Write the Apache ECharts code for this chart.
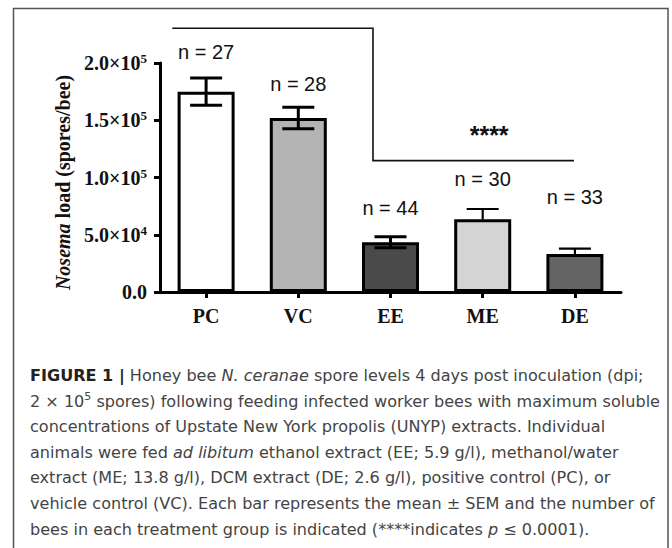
<!DOCTYPE html>
<html><head><meta charset="utf-8">
<script src="https://cdn.jsdelivr.net/npm/echarts@6/dist/echarts.min.js"></script>
<style>html,body{margin:0;padding:0;background:#fff}#chart{width:672px;height:548px}</style>
</head><body><div id="chart"></div>
<script>
// ---------------- data ----------------
const categories = ['PC', 'VC', 'EE', 'ME', 'DE'];
const meanLoad = [175000, 152000, 43500, 63500, 33200];
const semLoad = [11800, 9400, 4800, 9000, 4600];
const groupSize = [27, 28, 44, 30, 33];
const yTickValues = [0, 50000, 100000, 150000, 200000];
const yTickMantissa = ['0.0', '5.0×10', '1.0×10', '1.5×10', '2.0×10'];
const yTickExponent = ['', '4', '5', '5', '5'];
const yTitleItalic = 'Nosema';
const yTitleRest = ' load (spores/bee)';
const significanceMark = '****';
const captionLines = [
  '{b|FIGURE 1 |} Honey bee {i|N. ceranae} spore levels 4 days post inoculation (dpi;',
  '2 × 10{s|5} spores) following feeding infected worker bees with maximum soluble',
  'concentrations of Upstate New York propolis (UNYP) extracts. Individual',
  'animals were fed {i|ad libitum} ethanol extract (EE; 5.9 g/l), methanol/water',
  'extract (ME; 13.8 g/l), DCM extract (DE; 2.6 g/l), positive control (PC), or',
  'vehicle control (VC). Each bar represents the mean ± SEM and the number of',
  'bees in each treatment group is indicated (****indicates {i|p} ≤ 0.0001).'
];

// ---------------- styling ----------------
const barFills = ['#ffffff', '#b4b4b4', '#4a4a4a', '#d4d4d4', '#646464'];
const errLower = [true, true, true, false, false];
const errWidth = [3, 3, 3, 2.2, 2.2];
const nGap = [26, 23, 29, 30, 52];
const SERIF = 'Liberation Serif';
const SANS = 'Liberation Sans';
const CAP_FAMILY = 'DejaVu Sans';

function fitSize(family, sample, target) {
  const ctx = document.createElement('canvas').getContext('2d');
  ctx.font = '100px "' + family + '"';
  const w = ctx.measureText(sample).width;
  return w > 0 ? 100 * target / w : 16;
}
const CAP_FONT = Math.min(17.5, fitSize(CAP_FAMILY, captionLines[5], 625));

const chart = echarts.init(document.getElementById('chart'), null, {renderer: 'svg'});

function capRich() {
  const base = {fontFamily: CAP_FAMILY, fontSize: CAP_FONT, fill: '#444', fontWeight: 'normal', fontStyle: 'normal'};
  return {
    b: Object.assign({}, base, {fontWeight: 'bold', fill: '#222'}),
    i: Object.assign({}, base, {fontStyle: 'italic'}),
    s: Object.assign({}, base, {fontSize: Math.round(CAP_FONT * 0.68), lineHeight: 12, verticalAlign: 'top'})
  };
}

const graphics = [
  {type: 'rect', silent: true, shape: {x: 13.5, y: 8.5, width: 654.5, height: 620},
   style: {fill: 'none', stroke: '#555', lineWidth: 1.5}}
];
captionLines.forEach((t, k) => {
  graphics.push({
    type: 'text', silent: true,
    style: {text: t, x: 30, y: 375.5 + 25.6 * k, align: 'left', verticalAlign: 'middle',
      textAlign: 'left', textVerticalAlign: 'middle',
      fontFamily: CAP_FAMILY, fontSize: CAP_FONT, fill: '#444', lineHeight: 20, rich: capRich()}
  });
});

const option = {
  animation: false,
  backgroundColor: '#fff',
  grid: {left: 160, top: 63, width: 461, height: 229, containLabel: false},
  xAxis: {
    type: 'category', data: categories,
    axisLine: {lineStyle: {color: '#000', width: 3}},
    axisTick: {show: true, alignWithLabel: true, length: 6, lineStyle: {color: '#000', width: 3}},
    axisLabel: {fontFamily: SERIF, fontWeight: 'bold', fontSize: 20, color: '#111', margin: 14},
    splitLine: {show: false}
  },
  yAxis: {
    type: 'value', min: 0, max: 200000, interval: 50000,
    name: '{i|' + yTitleItalic + '}{r|' + yTitleRest + '}',
    nameLocation: 'middle', nameRotate: 90, nameGap: 86,
    nameTextStyle: {
      padding: [0, 10, 0, 0],
      rich: {
        i: {fontFamily: SERIF, fontWeight: 'bold', fontStyle: 'italic', fontSize: 20, color: '#111'},
        r: {fontFamily: SERIF, fontWeight: 'bold', fontStyle: 'normal', fontSize: 20, color: '#111'}
      }
    },
    axisLine: {show: true, lineStyle: {color: '#000', width: 3}},
    axisTick: {show: true, length: 6, lineStyle: {color: '#000', width: 3}},
    splitLine: {show: false},
    axisLabel: {
      margin: 13,
      formatter: function (v) {
        const k = yTickValues.indexOf(v);
        if (k < 0) return '';
        return yTickExponent[k] ? '{m|' + yTickMantissa[k] + '}{e|' + yTickExponent[k] + '}' : '{m|' + yTickMantissa[k] + '}';
      },
      rich: {
        m: {fontFamily: SERIF, fontWeight: 'bold', fontSize: 20, color: '#111', lineHeight: 22},
        e: {fontFamily: SERIF, fontWeight: 'bold', fontSize: 13, color: '#111', lineHeight: 12, verticalAlign: 'top'}
      }
    }
  },
  series: [
    {
      type: 'bar', barWidth: 57, z: 2,
      data: meanLoad.map((v, i) => ({value: v, itemStyle: {color: barFills[i]}})),
      itemStyle: {borderColor: '#000', borderWidth: 3}
    },
    {
      type: 'custom', z: 5, clip: false,
      data: categories.map((c, i) => [i, meanLoad[i], semLoad[i]]),
      renderItem: function (params, api) {
        const i = params.dataIndex;
        const m = api.value(1), s = api.value(2);
        const c = api.coord([api.value(0), m]);
        const top = api.coord([api.value(0), m + s]);
        const bot = api.coord([api.value(0), m - s]);
        const half = 16;
        const st = {stroke: '#000', lineWidth: errWidth[i], fill: 'none'};
        const ch = [
          {type: 'line', shape: {x1: c[0], y1: errLower[i] ? bot[1] : c[1], x2: c[0], y2: top[1]}, style: st},
          {type: 'line', shape: {x1: c[0] - half, y1: top[1], x2: c[0] + half, y2: top[1]}, style: st}
        ];
        if (errLower[i]) ch.push({type: 'line', shape: {x1: c[0] - half, y1: bot[1], x2: c[0] + half, y2: bot[1]}, style: st});
        return {type: 'group', children: ch};
      }
    },
    {
      type: 'custom', z: 6, clip: false,
      data: categories.map((c, i) => [i, meanLoad[i] + semLoad[i], groupSize[i]]),
      renderItem: function (params, api) {
        const i = params.dataIndex;
        const p = api.coord([api.value(0), api.value(1)]);
        return {type: 'text', style: {text: 'n = ' + api.value(2), x: p[0], y: p[1] - nGap[i],
          align: 'center', verticalAlign: 'middle', textAlign: 'center', textVerticalAlign: 'middle',
          fontFamily: SANS, fontSize: 20, fill: '#111'}};
      }
    },
    {
      type: 'custom', z: 6, clip: false,
      data: [[0, 1, 2, 3, 4]],
      renderItem: function (params, api) {
        const band = api.size([1, 0])[0];
        const hi = 230300, lo = 114700;
        const a = api.coord([0, hi]), b = api.coord([1, hi]);
        const c = api.coord([1, lo]), d = api.coord([4, lo]);
        const xv = b[0] + 0.81 * band;
        const star = api.coord([3, 141500]);
        return {type: 'group', children: [
          {type: 'polyline', shape: {points: [[a[0] - 0.367 * band, a[1]], [xv, b[1]], [xv, c[1]], [d[0] - 0.01 * band, d[1]]]},
            style: {stroke: '#111', lineWidth: 1.6, fill: 'none'}},
          {type: 'text', style: {text: significanceMark, x: star[0] + 0.07 * band, y: star[1] + 5,
            align: 'center', verticalAlign: 'middle', textAlign: 'center', textVerticalAlign: 'middle',
            fontFamily: SANS, fontWeight: 'bold', fontSize: 25, fill: '#111'}}
        ]};
      }
    }
  ],
  graphic: graphics
};
chart.setOption(option);
</script>
</body></html>
